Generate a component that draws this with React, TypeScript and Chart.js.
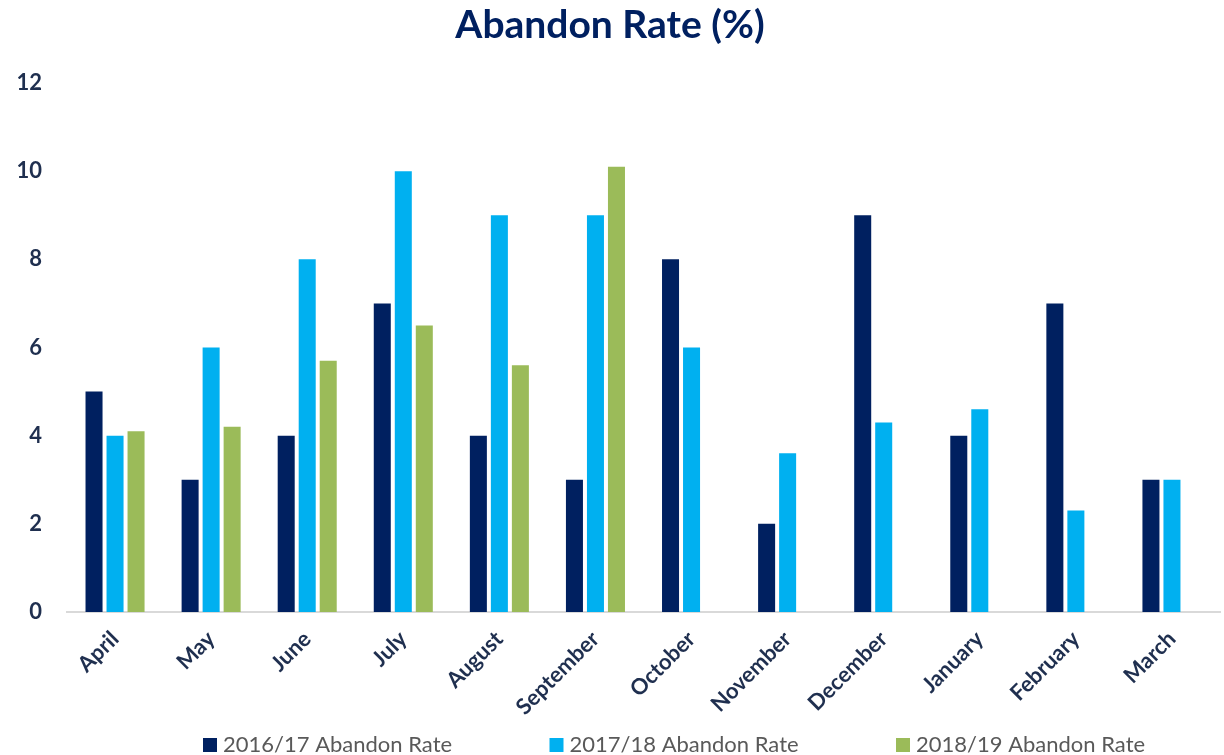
import React, { useEffect, useRef } from "react";
import { Chart, registerables } from "chart.js";

Chart.register(...registerables);

const months = [
  "April", "May", "June", "July", "August", "September",
  "October", "November", "December", "January", "February", "March",
];
const seriesNames = ["2016/17 Abandon Rate", "2017/18 Abandon Rate", "2018/19 Abandon Rate"];
const rate1617 = [5, 3, 4, 7, 4, 3, 8, 2, 9, 4, 7, 3];
const rate1718 = [4, 6, 8, 10, 9, 9, 6, 3.6, 4.3, 4.6, 2.3, 3];
const rate1819 = [4.1, 4.2, 5.7, 6.5, 5.6, 10.1, null, null, null, null, null, null];
const seriesColors = ["#002060", "#00B0F0", "#9BBB59"];
const yMin = 0;
const yMax = 12;
const yStep = 2;

const FONT = "Lato, 'Open Sans', sans-serif";

// Legend drawn along the bottom, spread like the original (positions only).
const spreadLegend = {
  id: "spreadLegend",
  afterDraw(chart: any) {
    const ctx = chart.ctx as CanvasRenderingContext2D;
    const box = 14;
    const gap = 6;
    const advance = 346.5;
    const left = 203;
    const cy = 745;
    ctx.save();
    ctx.font = `normal 22px ${FONT}`;
    ctx.textBaseline = "middle";
    ctx.textAlign = "left";
    chart.data.datasets.forEach((ds: any, i: number) => {
      const x = left + i * advance;
      ctx.fillStyle = ds.backgroundColor;
      ctx.fillRect(x, cy - box / 2, box, box);
      ctx.fillStyle = "#595959";
      ctx.fillText(ds.label, x + box + gap, cy);
    });
    ctx.restore();
  },
};

export default function App() {
  const ref = useRef<HTMLCanvasElement | null>(null);

  useEffect(() => {
    document.body.style.margin = "0";
    const canvas = ref.current;
    if (!canvas) return;

    const data = [rate1617, rate1718, rate1819];
    const chart = new Chart(canvas, {
      type: "bar",
      data: {
        labels: months,
        datasets: seriesNames.map((name, i) => ({
          label: name,
          data: data[i],
          backgroundColor: seriesColors[i],
          borderWidth: 0,
          categoryPercentage: 0.656,
          barPercentage: 0.81,
        })),
      },
      options: {
        animation: false,
        responsive: true,
        maintainAspectRatio: false,
        layout: { padding: { top: 0, left: 0, right: 4, bottom: 0 } },
        plugins: {
          title: {
            display: true,
            text: "Abandon Rate (%)",
            color: "#002060",
            font: { family: FONT, size: 39, weight: "bold" },
            padding: { top: 2, bottom: 34.2 },
          },
          legend: { display: false },
          tooltip: { enabled: false },
        },
        scales: {
          x: {
            grid: { display: false, drawTicks: false },
            border: { display: true, color: "#D9D9D9", width: 2 },
            ticks: {
              color: "#1F2F4F",
              font: { family: FONT, size: 22, weight: "bold" },
              minRotation: 45,
              maxRotation: 45,
              padding: 14,
              autoSkip: false,
            },
            afterFit: (s: any) => {
              s.height = 143;
            },
          },
          y: {
            min: yMin,
            max: yMax,
            grid: { display: false, drawTicks: false },
            border: { display: false },
            ticks: {
              stepSize: yStep,
              color: "#1F2F4F",
              font: { family: FONT, size: 22, weight: "bold" },
              padding: 25,
            },
            afterFit: (s: any) => {
              s.width = 67;
            },
          },
        },
      },
      plugins: [spreadLegend],
    });
    return () => chart.destroy();
  }, []);

  return (
    <div style={{ width: 1224, height: 755, position: "relative" }}>
      <canvas ref={ref} />
    </div>
  );
}
